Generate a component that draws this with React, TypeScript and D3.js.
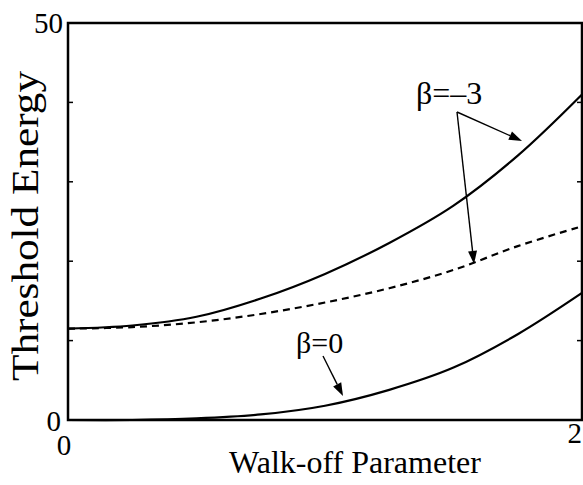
import React from "react";
import * as d3 from "d3";

// Walk-off parameter samples and threshold energies for each case
const walkOff = [0, 0.25, 0.5, 0.75, 1.0, 1.25, 1.5, 1.75, 2.0];
const betaMinus3Solid = [11.5, 11.9, 13.0, 15.3, 18.4, 22.3, 27.0, 33.3, 41.0];
const betaMinus3Dashed = [11.5, 11.7, 12.3, 13.35, 14.8, 16.6, 18.9, 21.9, 24.4];
const betaZero = [0, 0, 0.2, 0.7, 1.8, 3.8, 6.6, 10.8, 16.0];

const yTicks = [10, 20, 30, 40];
const xTickLabels = ["0", "2"];
const yTickLabels = ["0", "50"];

const W = 583;
const H = 485;
const left = 68;
const right = 582;
const top = 23;
const bottom = 420;
const FONT = "'Liberation Serif', 'Times New Roman', serif";

export default function App() {
  const x = d3.scaleLinear().domain([0, 2]).range([left, right]);
  const y = d3.scaleLinear().domain([0, 50]).range([bottom, top]);

  const line = (vals: number[]) =>
    d3
      .line<number>()
      .x((_, i) => x(walkOff[i]))
      .y((v) => y(v))
      .curve(d3.curveCatmullRom.alpha(0.5))(vals) as string;

  // arrow with a filled triangular head
  const arrow = (x1: number, y1: number, x2: number, y2: number, key: string) => {
    const ang = Math.atan2(y2 - y1, x2 - x1);
    const len = 13;
    const half = 4.5;
    const bx = x2 - len * Math.cos(ang);
    const by = y2 - len * Math.sin(ang);
    const px = -Math.sin(ang) * half;
    const py = Math.cos(ang) * half;
    return (
      <g key={key}>
        <line x1={x1} y1={y1} x2={bx} y2={by} stroke="#000" strokeWidth={1.4} />
        <polygon
          points={`${x2},${y2} ${bx + px},${by + py} ${bx - px},${by - py}`}
          fill="#000"
        />
      </g>
    );
  };

  return (
    <svg
      width={W}
      height={H}
      style={{ position: "absolute", left: 0, top: 0, background: "#fff" }}
      fontFamily={FONT}
    >
      <rect x={0} y={0} width={W} height={H} fill="#fff" />

      {/* curves */}
      <path d={line(betaMinus3Solid)} fill="none" stroke="#000" strokeWidth={2.2} />
      <path
        d={line(betaMinus3Dashed)}
        fill="none"
        stroke="#000"
        strokeWidth={2.2}
        strokeDasharray="7,5"
      />
      <path d={line(betaZero)} fill="none" stroke="#000" strokeWidth={2.2} />

      {/* frame */}
      <rect
        x={left}
        y={top}
        width={right - left}
        height={bottom - top}
        fill="none"
        stroke="#000"
        strokeWidth={2.5}
      />
      {yTicks.map((t) => (
        <g key={t}>
          <line x1={left} x2={left + 5} y1={y(t)} y2={y(t)} stroke="#000" strokeWidth={1.5} />
          <line x1={right} x2={right - 5} y1={y(t)} y2={y(t)} stroke="#000" strokeWidth={1.5} />
        </g>
      ))}

      {/* tick labels */}
      <text x={61} y={y(0) + 11} fontSize={29} textAnchor="end">
        {yTickLabels[0]}
      </text>
      <text x={63} y={y(50) + 10} fontSize={29} textAnchor="end">
        {yTickLabels[1]}
      </text>
      <text x={x(0) - 4} y={455} fontSize={29} textAnchor="middle">
        {xTickLabels[0]}
      </text>
      <text x={582} y={443} fontSize={29} textAnchor="end">
        {xTickLabels[1]}
      </text>

      {/* axis titles */}
      <text x={355} y={473} fontSize={32} textAnchor="middle">
        Walk-off Parameter
      </text>
      <text
        transform={`translate(38, 226) rotate(-90)`}
        fontSize={37}
        textAnchor="middle"
        textLength={310}
        lengthAdjust="spacingAndGlyphs"
      >
        Threshold Energy
      </text>

      {/* annotations */}
      <text x={416} y={104} fontSize={32}>
        β=–3
      </text>
      {arrow(457, 112, 522, 141, "a1")}
      {arrow(457, 112, 474, 264, "a2")}
      <text x={296} y={353} fontSize={30}>
        β=0
      </text>
      {arrow(323, 356, 343, 396, "a3")}
    </svg>
  );
}
